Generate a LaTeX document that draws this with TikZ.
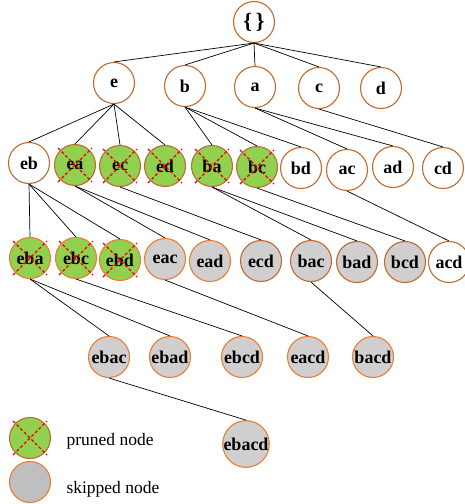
\documentclass[tikz,border=0pt]{standalone}
\usepackage{fontspec}
\setmainfont{Liberation Serif}
\definecolor{rim}{HTML}{BF6A30}
\definecolor{rimlight}{HTML}{ED7D31}
\definecolor{leaf}{HTML}{92D050}
\definecolor{skip}{HTML}{D0CECE}
\tikzset{
  item/.style={circle, draw=rim, fill=white, line width=1.1pt, minimum size=41pt,
    inner sep=0pt, font=\fontsize{18}{18}\selectfont\bfseries},
  pruned/.style={item, fill=leaf},
  skipped/.style={item, fill=skip},
  light/.style={draw=rimlight},
  cut/.style={red!90!black, line width=1.3pt, dash pattern=on 3pt off 2.2pt},
  link/.style={line width=0.7pt},
  keytext/.style={anchor=base west, font=\fontsize{17.5}{18}\selectfont}
}
\begin{document}
\begin{tikzpicture}[x=1pt,y=-1pt]
\useasboundingbox (0,0) rectangle (464,504);
% root and first level
\node[item, font=\fontsize{22}{22}\selectfont\bfseries] (root) at (254,22) {\{\,\}};
\node[item] (e) at (114,83) {e};
\node[item] (b) at (185,86) {b};
\node[item] (a) at (255,87) {a};
\node[item] (c) at (319,88) {c};
\node[item] (d) at (381,88) {d};
% pairs
\node[item] (eb) at (29,163) {eb};
\node[pruned] (ea) at (75,165) {ea};
\node[pruned] (ec) at (120,166) {ec};
\node[pruned] (ed) at (165,166) {ed};
\node[pruned] (ba) at (212,166) {ba};
\node[pruned] (bc) at (257,167) {bc};
\node[item] (bd) at (301,168) {bd};
\node[item] (ac) at (347,170) {ac};
\node[item] (ad) at (393,167) {ad};
\node[item] (cd) at (443,168) {cd};
% triples
\node[pruned,light] (eba) at (30,258) {eba};
\node[pruned,light] (ebc) at (76,258) {ebc};
\node[pruned,light] (ebd) at (120,260) {ebd};
\node[skipped,light] (eac) at (165,259) {eac};
\node[skipped,light] (ead) at (210,261) {ead};
\node[skipped] (ecd) at (261,261) {ecd};
\node[skipped] (bac) at (311,261) {bac};
\node[skipped] (bad) at (357,262) {bad};
\node[skipped] (bcd) at (405,262) {bcd};
\node[item] (acd) at (449,262) {acd};
% four and five items
\node[skipped,light] (ebac) at (109,357) {ebac};
\node[skipped,light] (ebad) at (170,357) {ebad};
\node[skipped,light] (ebcd) at (242,357) {ebcd};
\node[skipped,light] (eacd) at (308,357) {eacd};
\node[skipped,light] (bacd) at (373,357) {bacd};
\node[skipped,light] (ebacd) at (246,444) {ebacd};
% legend
\node[pruned] (keyp) at (30,438) {};
\node[skipped,light,fill=gray!50] (keys) at (30,482) {};
\node[keytext] (keyptext) at (63,445) {pruned node};
\node[keytext] (keystext) at (63,493) {skipped node};

% tree edges
\foreach \p/\q in {root/e,root/b,root/a,root/c,root/d,
    e/eb,e/ea,e/ec,e/ed,b/ba,b/bc,b/bd,a/ac,a/ad,c/cd,
    eb/eba,eb/ebc,eb/ebd,ea/eac,ea/ead,ec/ecd,ba/bac,ba/bad,bc/bcd,ac/acd,
    eba/ebac,eba/ebad,ebc/ebcd,eac/eacd,bac/bacd,ebac/ebacd}
  \draw[link] (\p.south) -- (\q.north);

% crosses over pruned nodes
\foreach \n in {ea,ec,ed,ba,bc,eba,ebc,ebd,keyp} {
  \draw[cut] ([shift={(-17,-17)}]\n.center) -- ([shift={(17,17)}]\n.center);
  \draw[cut] ([shift={(-17,17)}]\n.center) -- ([shift={(17,-17)}]\n.center);
}
\end{tikzpicture}
\end{document}
